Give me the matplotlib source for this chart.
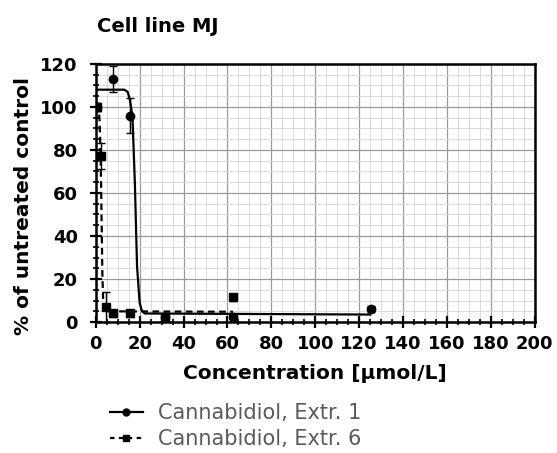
import numpy as np
import matplotlib
matplotlib.use("Agg")
from matplotlib import pyplot as plt
from matplotlib.ticker import MultipleLocator
from matplotlib.lines import Line2D

plt.rcParams['font.family'] = ['DejaVu Sans']

# measured viability, extract 1 (circles)
conc_e1 = [0.5, 7.8, 15.8, 31.5, 62.5, 125.5]
resp_e1 = [100, 113, 96, 2.5, 2.5, 6]
err_e1 = [2, 6, 8, 1, 1, 1.5]

# measured viability, extract 6 (squares)
conc_e6 = [0.5, 2.5, 4.7, 7.8, 15.8, 31.5, 62.5]
resp_e6 = [100, 77, 7, 4, 4, 2.5, 11.5]
err_e6 = [2, 6, 7, 1.5, 1.5, 1, 1.5]

# dose-response fit curves
fit_x_e1 = [0, 13, 14.5, 15.5, 16.7, 17.8, 18.8, 20, 21, 22.3, 125]
fit_y_e1 = [108, 108, 107, 103.5, 95.5, 64.5, 25.7, 8.8, 5.2, 4.0, 3.5]
fit_x_e6 = [0, 1.2, 1.7, 2.2, 2.6, 3.0, 3.4, 4.2, 62.5]
fit_y_e6 = [101, 100, 94, 78, 50, 22, 9, 5, 4.8]

fig = plt.figure(figsize=(5.57, 4.53), dpi=100)
ax = fig.add_axes([0.172, 0.289, 0.788, 0.570])

ax.plot(fit_x_e1, fit_y_e1, color='black', lw=1.6, zorder=3)
ax.plot(fit_x_e6, fit_y_e6, color='black', lw=1.6, ls=(0, (3, 2)), zorder=3)
ax.errorbar(conc_e1, resp_e1, yerr=err_e1, fmt='o', color='black', ms=6,
            elinewidth=1, capsize=3, zorder=4)
ax.errorbar(conc_e6, resp_e6, yerr=err_e6, fmt='s', color='black', ms=6,
            elinewidth=1, capsize=3, zorder=4)

ax.set_xlim(0, 200)
ax.set_ylim(0, 120)
ax.xaxis.set_major_locator(MultipleLocator(20))
ax.xaxis.set_minor_locator(MultipleLocator(5))
ax.yaxis.set_major_locator(MultipleLocator(20))
ax.yaxis.set_minor_locator(MultipleLocator(5))
ax.grid(which='major', color='#9a9a9a', lw=0.9)
ax.grid(which='minor', color='#d6d6d6', lw=0.6)
ax.set_axisbelow(True)

for s in ax.spines.values():
    s.set_linewidth(1.8)
ax.tick_params(which='major', direction='inout', length=8, width=1.6,
               labelsize=13)
ax.tick_params(axis='y', which='major', pad=9)
ax.tick_params(axis='x', which='major', pad=5)
ax.tick_params(which='minor', direction='inout', length=5, width=1.2)
for lbl in ax.get_xticklabels() + ax.get_yticklabels():
    lbl.set_fontweight('bold')

ax.set_xlabel('Concentration [µmol/L]', fontsize=14.5, fontweight='bold', labelpad=8)
ax.set_ylabel('% of untreated control', fontsize=14.5, fontweight='bold')
ax.yaxis.set_label_coords(-0.143, 0.45)
fig.text(0.174, 0.93, 'Cell line MJ', fontsize=14, fontweight='bold')

handles = [
    Line2D([], [], color='black', lw=1.6, marker='o', ms=5),
    Line2D([], [], color='black', lw=1.6, ls=(0, (2, 2)), marker='s', ms=5),
]
fig.legend(handles, ['Cannabidiol, Extr. 1', 'Cannabidiol, Extr. 6'],
           loc='upper left', bbox_to_anchor=(0.182, 0.128), frameon=False,
           fontsize=15, labelcolor='#5a5a5a', handlelength=1.6,
           handletextpad=0.7, labelspacing=0.28, borderaxespad=0)

fig.savefig('out.png', dpi=100)
